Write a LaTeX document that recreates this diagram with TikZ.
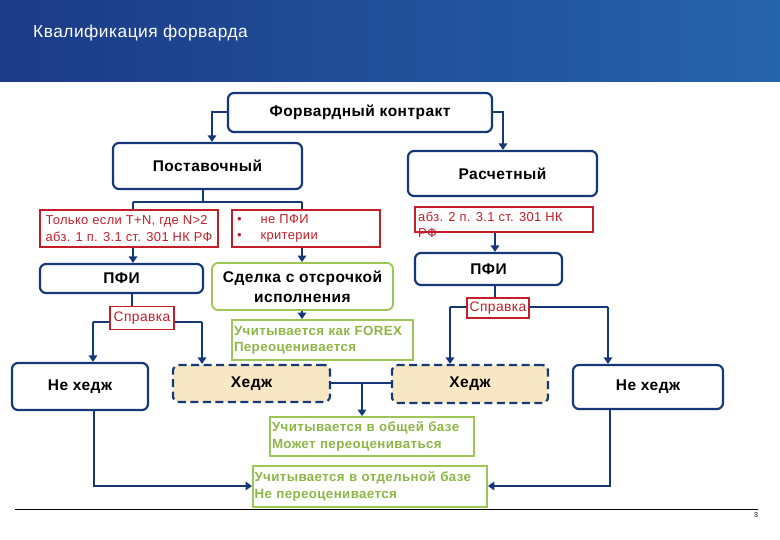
\documentclass[tikz,border=0pt]{standalone}
\usepackage{fontspec}
\setmainfont{Liberation Sans}[LetterSpace=3]
\usetikzlibrary{arrows.meta,calc}
\definecolor{navy}{RGB}{22,56,120}
\definecolor{myred}{RGB}{196,30,40}
\definecolor{mygreen}{RGB}{158,198,84}
\definecolor{mygreentext}{RGB}{140,182,70}
\definecolor{beige}{RGB}{247,231,196}
\definecolor{hdrL}{RGB}{28,58,135}
\definecolor{hdrR}{RGB}{38,100,170}
\begin{document}
\begin{tikzpicture}[x=1pt,y=-1pt,
  bluebox/.style={draw=navy, line width=2.2pt, rounded corners=6pt, fill=white,
    font=\bfseries\fontsize{15.5}{18}\selectfont, inner sep=0pt},
  hedgebox/.style={bluebox, fill=beige, dash pattern=on 8pt off 4.5pt},
  redbox/.style={draw=myred, line width=1.8pt, fill=white, text=myred,
    font=\fontsize{12.9}{16.5}\selectfont, inner sep=0pt, align=left},
  greenbox/.style={draw=mygreen, line width=1.8pt, fill=white, text=mygreentext,
    font=\bfseries\fontsize{13.3}{16.5}\selectfont, inner sep=0pt, align=left},
  conn/.style={draw=navy, line width=2.8pt},
  arr/.style={conn, -{Triangle[length=6.5pt,width=8.5pt]}}
]
\useasboundingbox (0,0) rectangle (780,540);
\fill[white] (0,0) rectangle (780,540);
% header
\shade[left color=hdrL, right color=hdrR] (0,0) rectangle (780,82);
\node[anchor=west, text=white, font=\fontsize{17.3}{20}\selectfont, inner sep=0pt] (title) at (33,33) {Квалификация форварда};

% junction coordinates
\coordinate (a1) at (212,112);
\coordinate (a2) at (503,112);
\coordinate (pj) at (203,202);
\coordinate (pjl) at (133,202);
\coordinate (pjr) at (302,202);
\coordinate (lj) at (132,322);
\coordinate (ljl) at (93,322);
\coordinate (ljr) at (202,322);
\coordinate (rj) at (495,307);
\coordinate (rjl) at (450,307);
\coordinate (rjr) at (608,307);
\coordinate (hj) at (362,383);
\coordinate (bl) at (94,486);
\coordinate (br) at (610,486);

% boxes
\node[bluebox, minimum width=264pt, minimum height=39pt] (fc) at (360,112.5) {Форвардный контракт};
\node[bluebox, minimum width=189pt, minimum height=46pt] (post) at (207.5,166) {Поставочный};
\node[bluebox, minimum width=189pt, minimum height=45pt] (rasch) at (502.5,173.5) {Расчетный};

\draw[arr] (fc.west |- a1) -- (a1) -- (a1 |- post.north);
\draw[arr] (fc.east |- a2) -- (a2) -- (a2 |- rasch.north);

\node[redbox, minimum width=178pt, minimum height=37pt] (r1) at (129,228.5) {Только если T+N, где N>2\\абз. 1 п. 3.1 ст. 301 НК РФ};
\node[redbox, minimum width=148pt, minimum height=37pt, text width=138pt, inner xsep=5pt] (r2) at (306,228.5) {•\hspace{19pt}не ПФИ\\•\hspace{19pt}критерии};
\node[redbox, minimum width=178pt, minimum height=25pt] (r3) at (504,219.5) {};
\node[anchor=north west, text=myred, font=\fontsize{12.9}{15.5}\selectfont, align=left, inner sep=0pt] (r3t) at (418,212) {абз. 2 п. 3.1 ст. 301 НК\\РФ};

\draw[conn] (post.south -| pj) -- (pj);
\draw[conn] (pjl) -- (pjr);
\draw[conn] (pjl) -- (pjl |- r1.north);
\draw[conn] (pjr) -- (pjr |- r2.north);

\node[bluebox, minimum width=163pt, minimum height=29pt] (pfiL) at (121.5,278.5) {ПФИ};
\node[greenbox, text=black, rounded corners=6pt, align=center,
  font=\bfseries\fontsize{15.5}{20}\selectfont, minimum width=181pt, minimum height=47pt] (sd) at (302.5,286.5) {Сделка с отсрочкой\\исполнения};
\node[bluebox, minimum width=147pt, minimum height=32pt] (pfiR) at (488.5,269) {ПФИ};

\draw[arr] (r1.south -| pjl) -- (pjl |- pfiL.north);
\draw[arr] (r2.south -| pjr) -- (pjr |- sd.north);
\draw[arr] (r3.south -| rj) -- (rj |- pfiR.north);

\node[greenbox, minimum width=181pt, minimum height=40pt, text width=177pt, inner xsep=2pt] (forex) at (322.5,340) {Учитывается как FOREX\\Переоценивается};
\draw[arr] (sd.south -| pjr) -- (pjr |- forex.north);

\node[bluebox, minimum width=136pt, minimum height=47pt] (nhL) at (80,386.5) {Не хедж};
\node[hedgebox, minimum width=157pt, minimum height=37pt] (hL) at (251.5,383.5) {Хедж};
\node[hedgebox, minimum width=156pt, minimum height=38pt] (hR) at (470,384) {Хедж};
\node[bluebox, minimum width=150pt, minimum height=44pt] (nhR) at (648,387) {Не хедж};

\draw[conn] (pfiL.south -| lj) -- (lj);
\draw[arr] (ljl) -- (ljl |- nhL.north);
\draw[arr] (ljr) -- (ljr |- hL.north);
\draw[conn] (ljl) -- (ljr);
\draw[conn] (pfiR.south -| rj) -- (rj);
\draw[arr] (rjl) -- (rjl |- hR.north);
\draw[arr] (rjr) -- (rjr |- nhR.north);
\draw[conn] (rjl) -- (rjr);

\node[redbox, font=\fontsize{13.8}{15}\selectfont, minimum width=64pt, minimum height=23pt] (sprL) at (142,318) {Справка};
\node[redbox, font=\fontsize{13.8}{15}\selectfont, minimum width=62pt, minimum height=20pt] (sprR) at (498,308) {Справка};

\node[greenbox, minimum width=204pt, minimum height=39pt, text width=200pt, inner xsep=2pt] (ob) at (372,436.5) {Учитывается в общей базе\\Может переоцениваться};
\node[greenbox, minimum width=234pt, minimum height=41pt, text width=231pt, inner xsep=1.5pt] (ot) at (370,486.5) {Учитывается в отдельной базе\\Не переоценивается};

\draw[conn] (hL.east |- hj) -- (hR.west |- hj);
\draw[arr] (hj) -- (hj |- ob.north);
\draw[arr] (nhL.south -| bl) -- (bl) -- (ot.west |- bl);
\draw[arr] (nhR.south -| br) -- (br) -- (ot.east |- br);

% footer
\coordinate (fl) at (15,509);
\coordinate (fr) at (758,509);
\draw[black, line width=0.8pt] (fl) -- (fr);
\node[font=\fontsize{7}{8}\selectfont, inner sep=0pt] (pg) at (756,515) {3};
\end{tikzpicture}
\end{document}
